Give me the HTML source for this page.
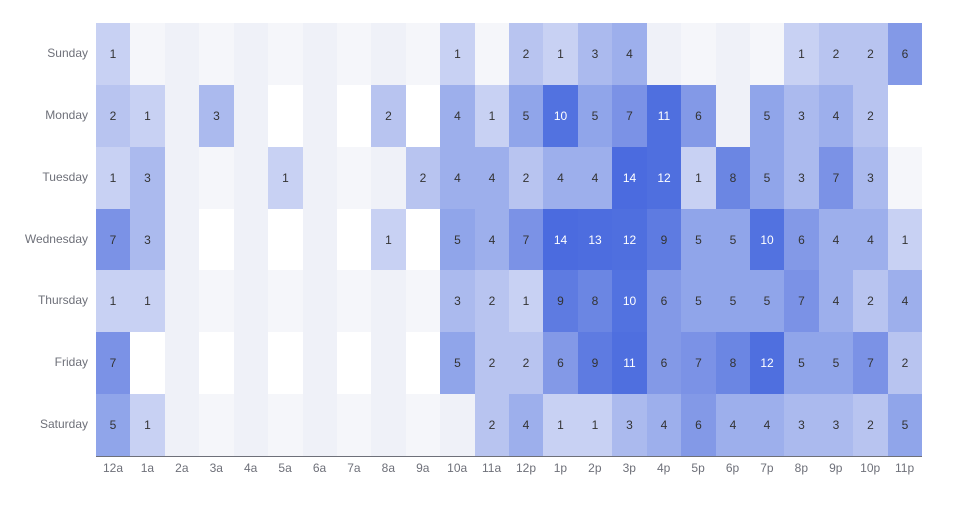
<!DOCTYPE html>
<html><head><meta charset="utf-8"><style>
body{margin:0;width:962px;height:512px;background:#fff;font-family:"Liberation Sans",sans-serif;position:relative;overflow:hidden}
.c{position:absolute;display:flex;align-items:center;justify-content:center;font-size:12px;color:#333}
.y{position:absolute;right:874px;font-size:12px;color:#6e7079;text-align:right;white-space:nowrap}
.x{position:absolute;top:461px;font-size:12px;color:#6e7079;width:34px;text-align:center}
</style></head><body>
<div id="g"></div>
<div style="position:absolute;left:96px;top:456px;width:826px;height:1px;background:#6e7079"></div>
<script>
var d=[
[1,0,0,0,0,0,0,0,0,0,1,0,2,1,3,4,0,0,0,0,1,2,2,6],
[2,1,0,3,0,0,0,0,2,0,4,1,5,10,5,7,11,6,0,5,3,4,2,0],
[1,3,0,0,0,1,0,0,0,2,4,4,2,4,4,14,12,1,8,5,3,7,3,0],
[7,3,0,0,0,0,0,0,1,0,5,4,7,14,13,12,9,5,5,10,6,4,4,1],
[1,1,0,0,0,0,0,0,0,0,3,2,1,9,8,10,6,5,5,5,7,4,2,4],
[7,0,0,0,0,0,0,0,0,0,5,2,2,6,9,11,6,7,8,12,5,5,7,2],
[5,1,0,0,0,0,0,0,0,0,0,2,4,1,1,3,4,6,4,4,3,3,2,5]];
var white={"1,5":1,"1,7":1,"1,9":1,"1,23":1,"3,3":1,"3,5":1,"3,7":1,"3,9":1,"5,1":1,"5,3":1,"5,5":1,"5,7":1,"5,9":1,"1,2":0};
var col=["","#c8d1f3","#b8c4f0","#abbaee","#9dafec","#90a5ea","#8399e7","#7b92e6","#6b86e3","#5e7be1","#5272e0","#4f6fdf","#4f6fdf","#4d6ddf","#4b6bdf"];
var days=["Sunday","Monday","Tuesday","Wednesday","Thursday","Friday","Saturday"];
var hrs=["12a","1a","2a","3a","4a","5a","6a","7a","8a","9a","10a","11a","12p","1p","2p","3p","4p","5p","6p","7p","8p","9p","10p","11p"];
var h="",cw=826/24,rh=433/7;
for(var r=0;r<7;r++){
 h+='<div class="y" style="top:'+(23+r*rh+rh/2-8)+'px">'+days[r]+'</div>';
 for(var c=0;c<24;c++){
  var v=d[r][c],bg;
  if(v==0){bg=white[r+","+c]?"#ffffff":(c%2?"#f5f6fa":"#eff1f8");}else bg=col[v];
  var x0=Math.round(96+c*cw),x1=Math.round(96+(c+1)*cw),y0=Math.round(23+r*rh),y1=Math.round(23+(r+1)*rh);
  h+='<div class="c" style="left:'+x0+'px;top:'+y0+'px;width:'+(x1-x0)+'px;height:'+(y1-y0)+'px;background:'+bg+';'+(v>=10?'color:#fff':'')+'">'+(v?v:'')+'</div>';
 }
}
for(var c=0;c<24;c++)h+='<div class="x" style="left:'+(96+c*cw)+'px">'+hrs[c]+'</div>';
document.getElementById("g").innerHTML=h;
</script>
</body></html>
